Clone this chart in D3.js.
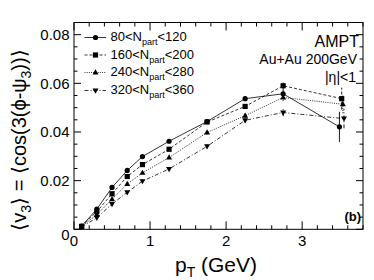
<!DOCTYPE html>
<html><head><meta charset="utf-8">
<script src="https://cdn.jsdelivr.net/npm/d3@7"></script>
<style>
html,body{margin:0;padding:0;background:#fff;}
svg{display:block;font-family:"Liberation Sans",Arial,Helvetica,sans-serif;}
</style></head>
<body><div id="chart"></div>
<script>
// ---- data ----
const seriesNames = ["80", "160", "240", "320"];
const seriesUpper = ["120", "200", "280", "360"];
const pT1 = [0.1, 0.3, 0.5, 0.7, 0.9, 1.25, 1.75, 2.25, 2.75, 3.49];
const pT2 = [0.1, 0.3, 0.5, 0.7, 0.9, 1.25, 1.75, 2.25, 2.75, 3.52];
const pT3 = [0.1, 0.3, 0.5, 0.7, 0.9, 1.25, 1.75, 2.25, 2.75, 3.535];
const pT4 = [0.1, 0.3, 0.5, 0.7, 0.9, 1.25, 1.75, 2.25, 2.75, 3.55];
const v1 = [0.0013, 0.0083, 0.0172, 0.0242, 0.0299, 0.0362, 0.0443, 0.0537, 0.0557, 0.0421];
const v2 = [0.0012, 0.0073, 0.0146, 0.0217, 0.0266, 0.0329, 0.0441, 0.0505, 0.0590, 0.0537];
const v3 = [0.0011, 0.0060, 0.0124, 0.0186, 0.0232, 0.0295, 0.0398, 0.0467, 0.0542, 0.0514];
const v4 = [0.0010, 0.0047, 0.0104, 0.0152, 0.0198, 0.0248, 0.0341, 0.0448, 0.0480, 0.0455];
const e1 = [0.0003, 0.0004, 0.0005, 0.0005, 0.0006, 0.0006, 0.0008, 0.0010, 0.0015, 0.0062];
const e2 = [0.0003, 0.0004, 0.0005, 0.0005, 0.0006, 0.0006, 0.0008, 0.0010, 0.0020, 0.0045];
const e3 = [0.0003, 0.0004, 0.0005, 0.0005, 0.0006, 0.0006, 0.0008, 0.0010, 0.0015, 0.0037];
const e4 = [0.0003, 0.0004, 0.0005, 0.0005, 0.0006, 0.0006, 0.0008, 0.0010, 0.0015, 0.0040];
const xMajorTicks = [0, 1, 2, 3];
const yMajorTicks = [0, 0.02, 0.04, 0.06, 0.08];
const yTickLabels = ["0", "0.02", "0.04", "0.06", "0.08"];

const W = 374, H = 280;
const L = 74, R = 363, T = 22.5, B = 229.3;

const svg = d3.select("#chart").append("svg").attr("width", W).attr("height", H);
const x = d3.scaleLinear().domain([0, 3.8]).range([L, R]);
const y = d3.scaleLinear().domain([0, 0.085]).range([B, T]);

// frame
svg.append("rect").attr("x", L).attr("y", T).attr("width", R - L).attr("height", B - T)
  .attr("fill", "none").attr("stroke", "#000").attr("stroke-width", 1);

// ticks (inside, all four sides)
const xMinor = d3.range(0, 3.8001, 0.2);
const yMinor = d3.range(0, 0.0851, 0.005);
const tg = svg.append("g").attr("stroke", "#000").attr("stroke-width", 1);
xMinor.forEach(v => {
  const major = Math.abs(v - Math.round(v)) < 1e-6;
  const len = major ? 8 : 4;
  const px = x(v);
  tg.append("line").attr("x1", px).attr("x2", px).attr("y1", B).attr("y2", B - len);
  tg.append("line").attr("x1", px).attr("x2", px).attr("y1", T).attr("y2", T + len);
});
yMinor.forEach(v => {
  const major = Math.abs(v / 0.02 - Math.round(v / 0.02)) < 1e-6;
  const len = major ? 7 : 3.5;
  const py = y(v);
  tg.append("line").attr("x1", L).attr("x2", L + len).attr("y1", py).attr("y2", py);
  tg.append("line").attr("x1", R).attr("x2", R - len).attr("y1", py).attr("y2", py);
});

// tick labels
svg.append("g").selectAll("text").data(xMajorTicks).join("text")
  .attr("x", d => x(d)).attr("y", 245.5).attr("text-anchor", "middle")
  .attr("font-size", 15).text(d => d);
svg.append("g").selectAll("text").data(yMajorTicks).join("text")
  .attr("x", 69.5).attr("y", (d, i) => y(d) + 5.3 + (i === 0 ? 5 : 0)).attr("text-anchor", "end")
  .attr("font-size", 15).text((d, i) => yTickLabels[i]);

// axis titles
const xt = svg.append("text").attr("x", 216).attr("y", 271.5).attr("text-anchor", "middle").attr("font-size", 21);
xt.append("tspan").text("p");
xt.append("tspan").attr("font-size", 14).attr("dy", 5).text("T");
xt.append("tspan").attr("dy", -5).text(" (GeV)");

const yt = svg.append("text").attr("transform", "translate(26,140) rotate(-90)")
  .attr("text-anchor", "middle").attr("font-size", 20);
yt.append("tspan").text("\u27E8v");
yt.append("tspan").attr("font-size", 14).attr("dy", 5).text("3");
yt.append("tspan").attr("dy", -5).text("\u27E9 = \u27E8cos(3(\u03D5-\u03C8");
yt.append("tspan").attr("font-size", 14).attr("dy", 5).text("3");
yt.append("tspan").attr("dy", -5).text("))\u27E9");

// series
const series = [
  {pt: pT1, v: v1, e: e1, dash: null, sym: "circle"},
  {pt: pT2, v: v2, e: e2, dash: "3,2", sym: "square"},
  {pt: pT3, v: v3, e: e3, dash: "1,1.2", sym: "tri"},
  {pt: pT4, v: v4, e: e4, dash: "4,2,1,2", sym: "tridown"}
];
function marker(g, sym, cx, cy) {
  if (sym === "circle") g.append("circle").attr("cx", cx).attr("cy", cy).attr("r", 2.6).attr("fill", "#000");
  else if (sym === "square") g.append("rect").attr("x", cx - 2.6).attr("y", cy - 2.6).attr("width", 5.2).attr("height", 5.2).attr("fill", "#000");
  else if (sym === "tri") g.append("path").attr("d", `M${cx},${cy - 3.2}L${cx + 3},${cy + 2}L${cx - 3},${cy + 2}Z`).attr("fill", "#000");
  else g.append("path").attr("d", `M${cx},${cy + 3.2}L${cx + 3},${cy - 2}L${cx - 3},${cy - 2}Z`).attr("fill", "#000");
}
const line = d3.line().x(d => x(d[0])).y(d => y(d[1]));
series.forEach(s => {
  const pts = s.pt.map((p, i) => [p, s.v[i], s.e[i]]);
  const g = svg.append("g");
  const path = g.append("path").attr("d", line(pts)).attr("fill", "none")
    .attr("stroke", "#000").attr("stroke-width", 0.8);
  if (s.dash) path.attr("stroke-dasharray", s.dash);
  pts.forEach(d => {
    const el = g.append("line").attr("x1", x(d[0])).attr("x2", x(d[0]))
      .attr("y1", y(d[1] - d[2])).attr("y2", y(d[1] + d[2]))
      .attr("stroke", "#000").attr("stroke-width", 0.9);
    if (s.dash) el.attr("stroke-dasharray", s.dash);
    marker(g, s.sym, x(d[0]), y(d[1]));
  });
});

// legend
const legY = [37.5, 55, 72.5, 90.5];
series.forEach((s, i) => {
  const g = svg.append("g");
  const ln = g.append("line").attr("x1", 84.5).attr("x2", 106).attr("y1", legY[i]).attr("y2", legY[i])
    .attr("stroke", "#000").attr("stroke-width", 0.8);
  if (s.dash) ln.attr("stroke-dasharray", s.dash);
  marker(g, s.sym, 95.5, legY[i]);
  const t = g.append("text").attr("x", 110.5).attr("y", legY[i] + 3.5).attr("font-size", 13);
  t.append("tspan").text(seriesNames[i] + "<N");
  t.append("tspan").attr("font-size", 9).attr("dy", 4).text("part");
  t.append("tspan").attr("dy", -4).text("<" + seriesUpper[i]);
});

// annotations
svg.append("text").attr("x", 359).attr("y", 46.5).attr("text-anchor", "end").attr("font-size", 16).text("AMPT");
svg.append("text").attr("x", 357).attr("y", 64.3).attr("text-anchor", "end").attr("font-size", 14).text("Au+Au 200GeV");
svg.append("text").attr("x", 356).attr("y", 81.5).attr("text-anchor", "end").attr("font-size", 14).text("|\u03B7|<1");
svg.append("text").attr("x", 361).attr("y", 221).attr("text-anchor", "end").attr("font-size", 13)
  .attr("font-weight", "bold").text("(b)");
</script></body></html>
